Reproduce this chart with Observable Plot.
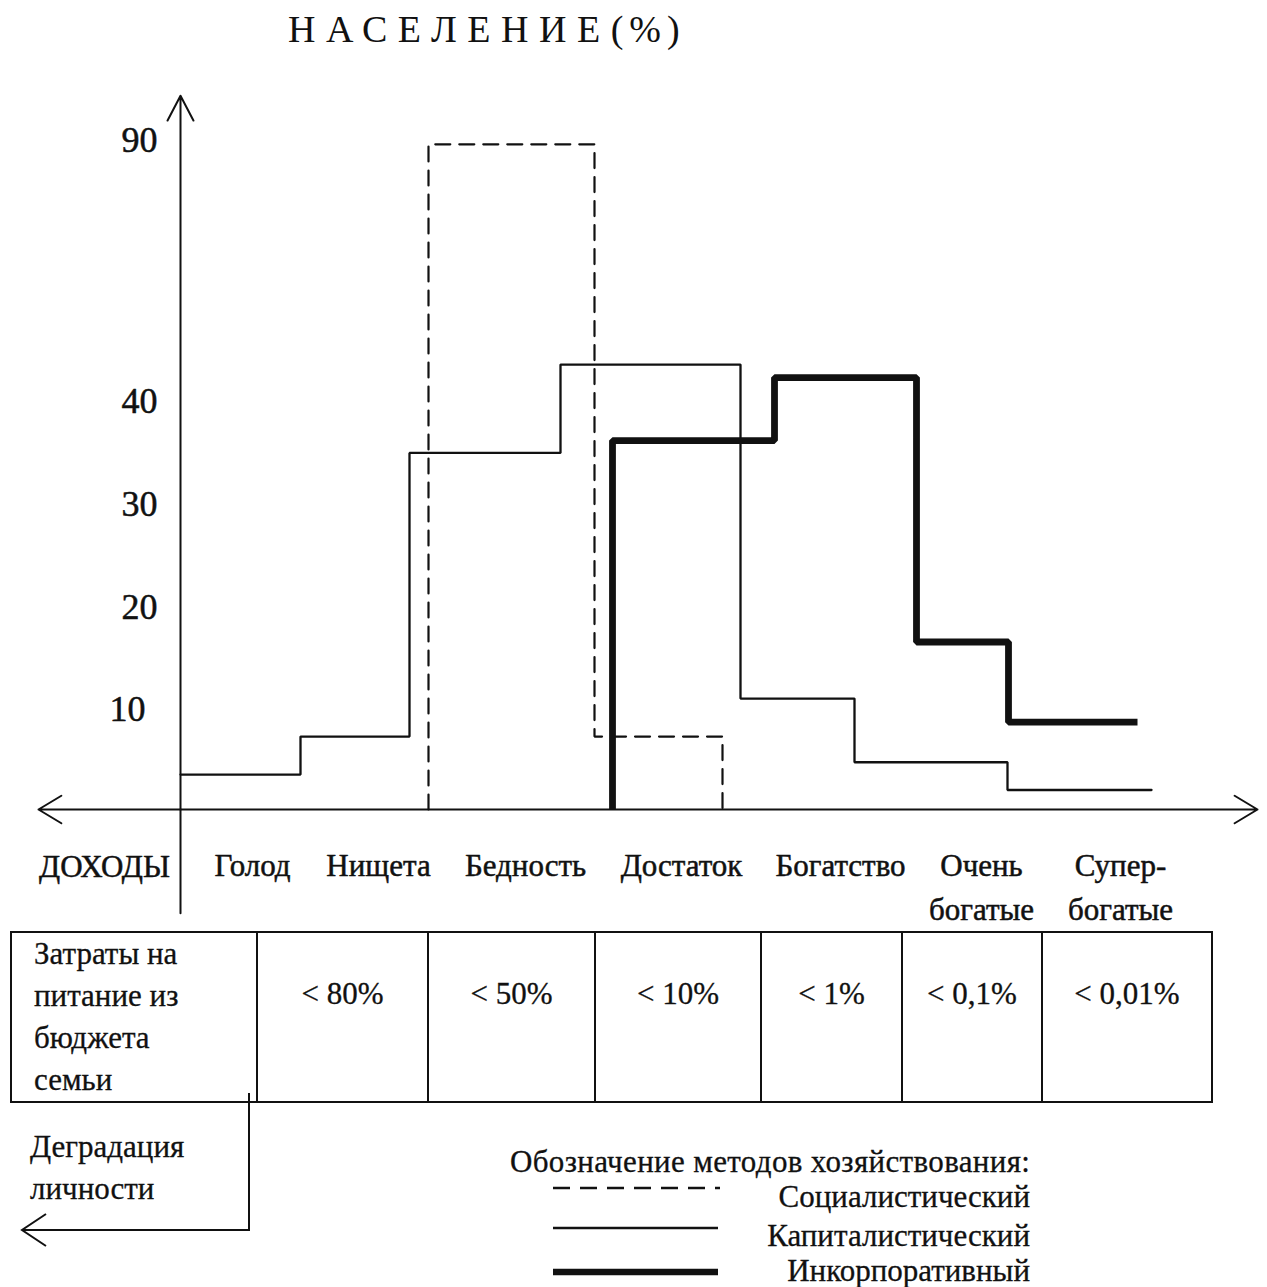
<!DOCTYPE html>
<html>
<head>
<meta charset="utf-8">
<script src="https://cdn.jsdelivr.net/npm/d3@7"></script>
<script src="https://cdn.jsdelivr.net/npm/@observablehq/plot@0.6"></script>
<style>
  body { margin: 0; background: #fff; }
  #page { position: relative; width: 1267px; height: 1287px; overflow: hidden; background: #fff;
          font-family: "Liberation Serif", "Times New Roman", serif; color: #111; }
  #title { position: absolute; left: 288px; top: 5px; font-size: 38px; line-height: 48px; white-space: nowrap; }
  #title .sp { letter-spacing: 10.5px; }
  #title .unit { letter-spacing: 6px; }
  #chart { position: absolute; left: 0; top: 70px; }
  #food { position: absolute; left: 10px; top: 931px; border-collapse: collapse; table-layout: fixed;
          font-size: 31px; -webkit-text-stroke: 0.3px #111; }
  #food td { border: 2px solid #111; line-height: 42px; padding: 0; vertical-align: top;
             text-align: center; white-space: nowrap; }
  #food td.head { text-align: left; padding-left: 22px; }
  #food td.val { padding-top: 40px; }
  .abs { position: absolute; white-space: nowrap; -webkit-text-stroke: 0.3px #111; }
  #degr { left: 30px; top: 1126px; font-size: 31px; line-height: 42px; }
  #legendTitle { left: 510px; top: 1145px; font-size: 31px; line-height: 34px; letter-spacing: 0.35px; }
  .legLabel { right: 237px; font-size: 31px; line-height: 30px; }
  svg.deco { position: absolute; left: 0; top: 0; overflow: visible; }
</style>
</head>
<body>
<div id="page">
  <div id="title"></div>
  <div id="chart"></div>
  <table id="food"></table>
  <div id="degr" class="abs"></div>
  <div id="legendTitle" class="abs"></div>
  <div id="legend"></div>
</div>
<script>
// ---------- data ----------
const titleMain = "НАСЕЛЕНИЕ";
const titleUnit = "(%)";
const yTicks = [10, 20, 30, 40, 90];
const yTickPos = [-3.5, -2.3, -2.3, -2.3, -2.3];
const incomeLabel = "ДОХОДЫ";
const categories = ["Голод", "Нищета", "Бедность", "Достаток", "Богатство", "Очень\nбогатые", "Супер-\nбогатые"];
const categoryPos = [7.2, 19.8, 34.5, 50.1, 66.0, 80.1, 94.0];

// step edges (income position) and population share (%) of each step
const socEdges = [24.8, 41.4, 54.2];
const socValues = [88.7, 7.1];
const capEdges = [0, 12.0, 22.9, 38.0, 56.0, 67.4, 82.7, 97.1];
const capValues = [3.4, 7.1, 34.7, 46.5, 10.8, 4.6, 1.9];
const incEdges = [43.2, 59.4, 73.6, 82.8, 95.7];
const incValues = [35.9, 44.0, 16.3, 8.5];

const tableHeader = ["Затраты на", "питание из", "бюджета", "семьи"];
const foodShare = ["< 80%", "< 50%", "< 10%", "< 1%", "< 0,1%", "< 0,01%"];
const degradation = ["Деградация", "личности"];
const legendTitle = "Обозначение методов хозяйствования:";
const methods = ["Социалистический", "Капиталистический", "Инкорпоративный"];

// ---------- helpers ----------
function stepPoints(edges, values, dropStart, dropEnd) {
  const pts = [];
  if (dropStart) pts.push({x: edges[0], y: 0});
  values.forEach((v, i) => pts.push({x: edges[i], y: v}));
  pts.push({x: edges[edges.length - 1], y: dropEnd ? 0 : values[values.length - 1]});
  return pts;
}
const socPts = stepPoints(socEdges, socValues, true, true);
const capPts = stepPoints(capEdges, capValues, false, false);
const incPts = stepPoints(incEdges, incValues, true, false);

const INK = "#111";
const FONT = "Liberation Serif";

// broken y axis: values above 40 are compressed
const BREAK = 40, SQUEEZE = 0.508;
const squeeze = v => v <= BREAK ? v : BREAK + (v - BREAK) * SQUEEZE;

const chart = Plot.plot({
  width: 1267,
  height: 860,
  margin: 0,
  x: {domain: [-18, 108.7], range: [0, 1267], axis: null},
  y: {transform: squeeze, domain: [0, squeeze(90)], range: [739, 67], axis: null},
  style: {fontFamily: FONT, background: "transparent", color: INK},
  marks: [
    Plot.arrow([{x1: 0, y1: -10.1, x2: 0, y2: 98}],
      {x1: "x1", y1: "y1", x2: "x2", y2: "y2", stroke: INK, strokeWidth: 2, headLength: 21, headAngle: 55}),
    Plot.arrow([{x1: 0, y1: 0, x2: 107.7, y2: 0}, {x1: 0, y1: 0, x2: -14.2, y2: 0}],
      {x1: "x1", y1: "y1", x2: "x2", y2: "y2", stroke: INK, strokeWidth: 2, headLength: 20, headAngle: 62}),
    Plot.line(socPts, {x: "x", y: "y", curve: "step-after", stroke: INK, strokeWidth: 2.2,
      strokeDasharray: "15,9", strokeLinejoin: "miter"}),
    Plot.line(capPts, {x: "x", y: "y", curve: "step-after", stroke: INK, strokeWidth: 2.3,
      strokeLinejoin: "miter"}),
    Plot.line(incPts, {x: "x", y: "y", curve: "step-after", stroke: INK, strokeWidth: 6.8,
      strokeLinejoin: "miter", strokeLinecap: "butt"}),
    Plot.text(yTicks, {x: (d, i) => yTickPos[i], y: d => d, text: d => String(d), textAnchor: "end", dy: 3,
      fontSize: 36, fill: INK, stroke: INK, strokeWidth: 0.5}),
    Plot.text([incomeLabel], {x: () => -7.6, y: () => -4.4, text: d => d, lineAnchor: "top", fontSize: 31,
      fill: INK, stroke: INK, strokeWidth: 0.5}),
    Plot.text(categories, {x: (d, i) => categoryPos[i], y: () => -3.4, text: d => d, lineAnchor: "top",
      fontSize: 31, lineHeight: 1.42, fill: INK, stroke: INK, strokeWidth: 0.5})
  ]
});
document.getElementById("chart").appendChild(chart);

const titleEl = document.getElementById("title");
titleEl.innerHTML = `<span class="sp">${titleMain}</span><span class="unit">${titleUnit}</span>`;

// table
const widths = [246, 171, 167, 166, 141, 140, 170];
const table = document.getElementById("food");
const cg = document.createElement("colgroup");
widths.forEach(w => { const c = document.createElement("col"); c.style.width = w + "px"; cg.appendChild(c); });
table.appendChild(cg);
table.style.width = widths.reduce((a, b) => a + b, 0) + "px";
const tr = document.createElement("tr");
const th = document.createElement("td");
th.className = "head";
th.innerHTML = tableHeader.join("<br>");
tr.appendChild(th);
foodShare.forEach(s => { const td = document.createElement("td"); td.className = "val"; td.textContent = s; tr.appendChild(td); });
table.appendChild(tr);

document.getElementById("degr").innerHTML = degradation.join("<br>");
document.getElementById("legendTitle").textContent = legendTitle;

const legendTops = [1182, 1221, 1256];
const legend = document.getElementById("legend");
methods.forEach((m, i) => {
  const d = document.createElement("div");
  d.className = "abs legLabel";
  d.style.top = legendTops[i] + "px";
  d.textContent = m;
  legend.appendChild(d);
});

// decorative svg: legend swatches and the degradation arrow
const ns = "http://www.w3.org/2000/svg";
const deco = document.createElementNS(ns, "svg");
deco.setAttribute("class", "deco");
deco.setAttribute("width", 1267);
deco.setAttribute("height", 1287);
deco.innerHTML = `
  <line x1="553" y1="1188" x2="720" y2="1188" stroke="${INK}" stroke-width="2.5" stroke-dasharray="17,10"/>
  <line x1="553" y1="1228" x2="718" y2="1228" stroke="${INK}" stroke-width="2.5"/>
  <line x1="553" y1="1272" x2="718" y2="1272" stroke="${INK}" stroke-width="6.5"/>
  <polyline points="249,1093 249,1230 22,1230" fill="none" stroke="${INK}" stroke-width="2"/>
  <polyline points="46,1214 22,1230 46,1246" fill="none" stroke="${INK}" stroke-width="2"/>`;
document.getElementById("page").appendChild(deco);
</script>
</body>
</html>
